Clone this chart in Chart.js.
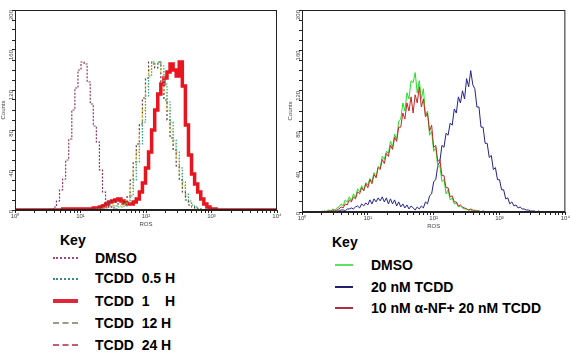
<!DOCTYPE html>
<html><head><meta charset="utf-8">
<script src="https://cdn.jsdelivr.net/npm/chart.js@4"></script>
<style>
html,body{margin:0;padding:0;background:#fff;width:570px;height:359px;overflow:hidden;font-family:"Liberation Sans",Arial,sans-serif;}
#c1{position:absolute;left:0;top:0;}
#c2{position:absolute;left:287px;top:0;}
.key{position:absolute;font-weight:bold;font-size:14px;color:#000;white-space:pre;line-height:16px;}
.smp{position:absolute;height:0;}
</style></head><body>
<canvas id="c1" width="285" height="228"></canvas>
<canvas id="c2" width="283" height="230"></canvas>

<div class="key" style="left:60px;top:232px">Key</div>
<div class="smp" style="left:53px;top:257px;width:25px;border-top:2px dotted #a04a70"></div>
<div class="key" style="left:95px;top:250px">DMSO</div>
<div class="smp" style="left:53px;top:278px;width:25px;border-top:2px dotted #3a8a80"></div>
<div class="key" style="left:95px;top:270px">TCDD  0.5 H</div>
<div class="smp" style="left:53px;top:299px;width:25px;border-top:4px solid #e0283a"></div>
<div class="key" style="left:95px;top:293px">TCDD  1    H</div>
<div class="smp" style="left:53px;top:322px;width:25px;border-top:2px dashed #9a9a8a"></div>
<div class="key" style="left:95px;top:315px">TCDD  12 H</div>
<div class="smp" style="left:53px;top:344px;width:25px;border-top:2px dashed #c85a70"></div>
<div class="key" style="left:95px;top:337px">TCDD  24 H</div>

<div class="key" style="left:332px;top:234px">Key</div>
<div class="smp" style="left:335px;top:264px;width:18px;border-top:2px solid #60e060"></div>
<div class="key" style="left:371px;top:257px">DMSO</div>
<div class="smp" style="left:335px;top:286px;width:18px;border-top:2px solid #202070"></div>
<div class="key" style="left:371px;top:279px">20 nM TCDD</div>
<div class="smp" style="left:335px;top:307px;width:18px;border-top:2px solid #b03040"></div>
<div class="key" style="left:371px;top:300px">10 nM α-NF+ 20 nM TCDD</div>

<script>
// ---- data: log-amplified channels (0..1024 = 10^0..10^4) ----
const decadeChannels = [0, 256, 512, 768, 1024];
const decadeLabels = ['10⁰', '10¹', '10²', '10³', '10⁴'];

const leftChannels = [0,
  132,144,156,168,180,192,204,216,228,240,
  252,264,276,288,300,312,324,336,348,360,
  372,384,396,408,420,432,444,456,468,480,
  492,504,516,528,540,552,564,576,588,600,
  612,624,636,648,660,672,684,696,708,720,
  732,744,756,768,780,792,
  1024];

const leftDMSO = [0,
  0,1,3,9,20,31,50,71,100,122,
  140,148,146,128,106,84,68,40,18,8,
  3,2,1,0,0,0,0,0,0,0,
  0,0,0,0,0,0,0,0,0,0,
  0,0,0,0,0,0,0,0,0,0,
  0,0,0,0,0,0,
  0];
const leftTCDD05 = [0,
  0,0,0,0,0,0,0,0,0,0,
  0,0,0,0,0,0,0,1,1,2,
  3,4,4,3,3,4,7,14,30,48,
  66,88,114,134,148,146,148,144,126,108,
  88,70,58,42,28,16,9,5,3,1,
  0,0,0,0,0,0,
  0];
const leftTCDD1 = [0,
  0,0,0,0,0,1,0,1,0,1,
  1,0,1,1,1,2,2,3,4,6,
  8,9,10,11,9,7,6,6,8,11,
  18,27,42,58,80,100,116,126,132,138,
  146,140,134,148,124,85,55,36,26,18,
  11,6,3,1,1,0,
  0];
const leftTCDD12 = [0,
  0,0,0,0,0,0,0,0,0,0,
  0,0,0,0,0,0,1,1,2,3,
  4,5,4,4,5,6,10,22,40,58,
  78,100,124,140,148,146,148,138,118,100,
  80,66,52,36,24,14,8,4,2,1,
  0,0,0,0,0,0,
  0];
const leftTCDD24 = [0,
  0,0,0,0,0,0,0,0,0,0,
  0,0,0,0,1,1,2,3,5,7,
  9,10,8,6,6,8,14,30,48,66,
  86,112,132,148,146,142,148,128,110,90,
  72,60,44,30,18,10,5,3,2,1,
  0,0,0,0,0,0,
  0];

const rightChannels = [0,
  64,72,80,88,96,104,112,120,128,136,
  144,152,160,168,176,184,192,200,208,216,
  224,232,240,248,256,264,272,280,288,296,
  304,312,320,328,336,344,352,360,368,376,
  384,392,400,408,416,424,432,440,448,456,
  464,472,480,488,496,504,512,520,528,536,
  544,552,560,568,576,584,592,600,608,616,
  624,632,640,648,656,664,672,680,688,696,
  704,712,720,728,736,744,752,760,768,776,
  784,792,800,808,816,824,832,840,848,856,
  864,872,880,888,896,904,912,920,928,
  1024];

const rightDMSO = [0,
  0,0,1,0,1,2,1,3,2,4,
  5,8,6,12,10,15,11,18,14,23,
  20,26,21,29,27,33,30,39,34,45,
  44,55,52,60,58,70,64,77,72,90,
  92,108,100,118,112,130,128,138,118,130,
  112,122,96,100,76,80,60,64,44,46,
  30,32,18,22,12,14,8,9,5,6,
  4,3,3,2,2,1,2,1,1,0,
  1,0,0,0,0,0,0,0,0,0,
  0,0,0,0,0,0,0,0,0,0,
  0,0,0,0,0,0,0,0,0,
  0];
const rightTCDD = [0,
  0,0,0,0,0,0,0,1,0,1,
  1,2,2,1,3,3,4,3,5,6,
  4,8,6,9,7,12,8,13,10,14,
  11,15,10,14,8,13,8,12,6,10,
  5,8,4,7,3,6,4,2,5,3,
  6,4,10,8,16,18,30,32,46,50,
  66,64,78,76,88,86,102,98,114,108,
  120,112,132,124,140,126,122,104,104,84,
  84,68,68,54,56,42,44,32,32,22,
  22,13,14,8,10,6,7,4,5,3,
  3,2,2,1,1,1,0,1,0,
  0];
const rightANF = [0,
  0,0,0,1,0,1,1,2,1,2,
  3,5,4,8,7,12,10,15,13,20,
  18,24,21,28,24,32,28,37,34,44,
  42,52,48,58,55,66,62,74,70,84,
  84,98,92,108,100,114,98,116,108,124,
  104,112,94,98,80,86,64,66,50,52,
  36,36,24,24,15,16,10,10,6,7,
  5,4,3,2,3,2,1,1,1,0,
  1,0,0,0,0,0,0,0,0,0,
  0,0,0,0,0,0,0,0,0,0,
  0,0,0,0,0,0,0,0,0,
  0];

// ---- helpers ----
function pts(xs, ys) { return xs.map((x, i) => ({x: x, y: ys[i]})); }
function logTicks() {
  const t = [];
  for (let d = 0; d < 4; d++) for (let k = 1; k < 10; k++) t.push({value: 256 * (d + Math.log10(k))});
  t.push({value: 1024});
  return t;
}
const frame = {id: 'frame', afterDatasetsDraw(c) {
  const a = c.chartArea, x = c.ctx;
  x.save(); x.strokeStyle = '#222'; x.lineWidth = 1;
  x.strokeRect(a.left + 0.5, a.top + 0.5, a.right - a.left - 1, a.bottom - a.top - 1);
  x.restore();
}};
function scales() {
  return {
    x: {type: 'linear', min: 0, max: 1024,
      afterBuildTicks: s => { s.ticks = logTicks(); },
      ticks: {autoSkip: false, maxRotation: 0, font: {size: 6}, color: '#444', padding: 0,
        callback: v => { const i = decadeChannels.indexOf(Math.round(v)); return (i >= 0 && Math.abs(v - decadeChannels[i]) < 0.01) ? decadeLabels[i] : ''; }},
      grid: {drawOnChartArea: false, tickLength: 3, color: '#222'},
      border: {color: '#222'},
      title: {display: true, text: 'ROS', font: {size: 6}, color: '#444', padding: 0},
      afterFit: s => { s.height = 18; }
    },
    y: {min: 0, max: 200,
      ticks: {stepSize: 10, autoSkip: false, minRotation: 90, maxRotation: 90, font: {size: 6}, color: '#444', padding: 1,
        callback: v => (v % 40 === 0 ? String(v) : '')},
      grid: {drawOnChartArea: false, tickLength: 3, color: '#222'},
      border: {color: '#222'},
      title: {display: true, text: 'Counts', font: {size: 6}, color: '#444', padding: 0},
      afterFit: s => { s.width = 15; }
    }
  };
}
function ds(label, xs, ys, color, width, dash, stepped) {
  return {label: label, data: pts(xs, ys), borderColor: color, borderWidth: width,
    borderDash: dash, pointRadius: 0, fill: false, tension: 0, stepped: stepped};
}
const common = (padRight) => ({
  responsive: false, animation: false, events: [],
  layout: {padding: {top: 10, right: padRight, left: 0, bottom: 0}},
  plugins: {legend: {display: false}, tooltip: {enabled: false}},
  scales: scales()
});

new Chart(document.getElementById('c1'), {
  type: 'line',
  data: {datasets: [
    ds('DMSO', leftChannels, leftDMSO, '#8e3a68', 1.2, [2, 1.5], 'middle'),
    ds('TCDD 0.5 H', leftChannels, leftTCDD05, '#2aa88c', 1.2, [1.5, 1.5], 'middle'),
    ds('TCDD 12 H', leftChannels, leftTCDD12, '#d8c020', 1.2, [1.5, 1.5], 'middle'),
    ds('TCDD 24 H', leftChannels, leftTCDD24, '#6a3030', 1.2, [2, 2], 'middle'),
    ds('TCDD 1 H', leftChannels, leftTCDD1, '#e8141e', 3.5, [], 'middle')
  ]},
  options: common(8),
  plugins: [frame]
});

new Chart(document.getElementById('c2'), {
  type: 'line',
  data: {datasets: [
    ds('10 nM α-NF+ 20 nM TCDD', rightChannels, rightANF, '#c02828', 1, [], false),
    ds('DMSO', rightChannels, rightDMSO, '#22e022', 1, [], false),
    ds('20 nM TCDD', rightChannels, rightTCDD, '#23238f', 1, [], false)
  ]},
  options: common(4),
  plugins: [frame]
});
</script>
</body></html>
